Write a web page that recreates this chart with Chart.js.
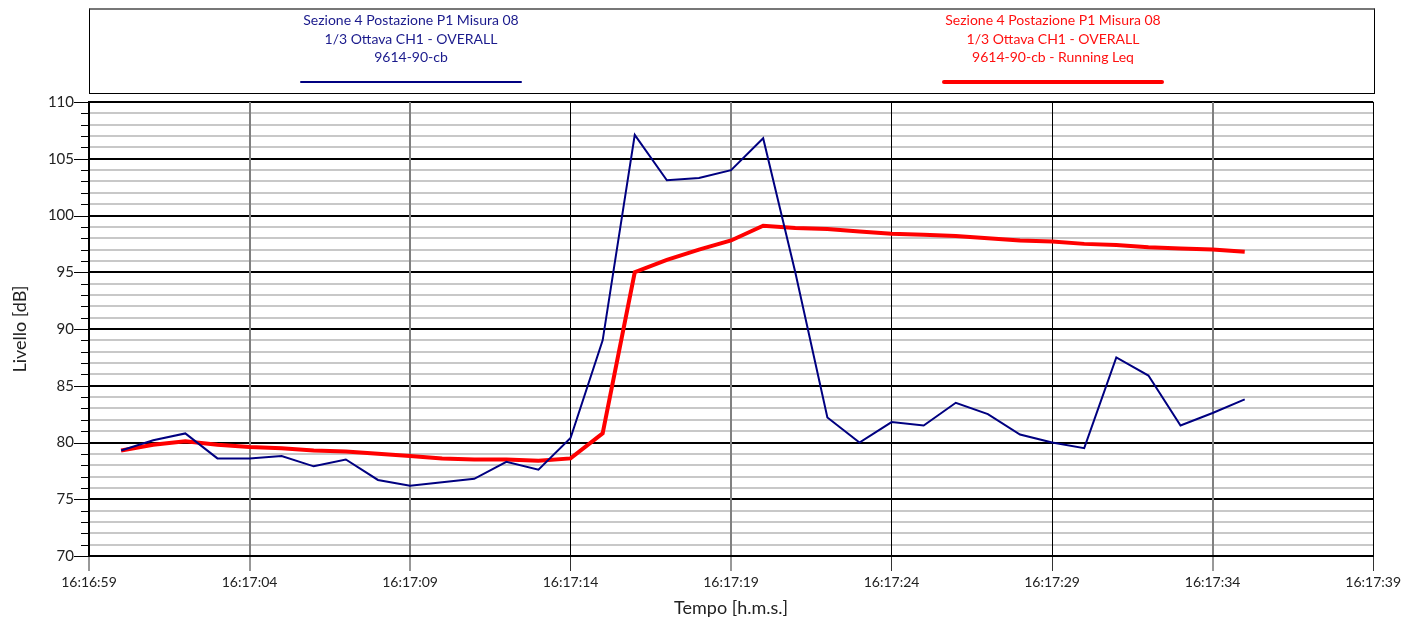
<!DOCTYPE html>
<html>
<head>
<meta charset="utf-8">
<script src="https://cdn.jsdelivr.net/npm/chart.js@4.4.1/dist/chart.umd.min.js"></script>
<style>
  body { margin: 0; background: #fff; font-family: Lato, "Open Sans", sans-serif; }
  #wrap { position: relative; width: 1404px; height: 622px; }
  #legenda {
    position: absolute; left: 89px; top: 8px; width: 1284px; height: 83px;
    border: 1px solid #000; border-top: 2px solid #777; display: flex;
  }
  .voce { flex: 1; text-align: center; font-size: 14px; line-height: 18.5px; padding-top: 1px; position: relative; }
  .campione { position: absolute; left: 50%; transform: translateX(-50%); width: 222px; border-radius: 2px; }
</style>
</head>
<body>
<div id="wrap">
  <canvas id="chart" width="1404" height="622"></canvas>
  <div id="legenda">
    <div class="voce" style="color:#1a1a8c">
      Sezione 4 Postazione P1 Misura 08<br>1/3 Ottava CH1 - OVERALL<br>9614-90-cb
      <div class="campione" style="top:71px;height:2px;background:#000080"></div>
    </div>
    <div class="voce" style="color:#ff1010">
      Sezione 4 Postazione P1 Misura 08<br>1/3 Ottava CH1 - OVERALL<br>9614-90-cb - Running Leq
      <div class="campione" style="top:70px;height:4px;background:#ff0000"></div>
    </div>
  </div>
</div>
<script>
// secondi dopo le 16:16:59
const secondi = [1,2,3,4,5,6,7,8,9,10,11,12,13,14,15,16,17,18,19,20,21,22,23,24,25,26,27,28,29,30,31,32,33,34,35,36];
const overall = [79.3,80.2,80.8,78.6,78.6,78.8,77.9,78.5,76.7,76.2,76.5,76.8,78.3,77.6,80.4,89.0,107.1,103.1,103.3,104.0,106.8,95.0,82.2,80.0,81.8,81.5,83.5,82.5,80.7,80.0,79.5,87.5,85.9,81.5,82.6,83.8];
const runningLeq = [79.3,79.8,80.1,79.8,79.6,79.5,79.3,79.2,79.0,78.8,78.6,78.5,78.5,78.4,78.6,80.8,95.0,96.1,97.0,97.8,99.1,98.9,98.8,98.6,98.4,98.3,98.2,98.0,97.8,97.7,97.5,97.4,97.2,97.1,97.0,96.8];
const oraInizio = 16 * 3600 + 16 * 60 + 59;
const lineeNere = [15, 25, 30, 40];

function formatoOra(s) {
    const t = oraInizio + s;
    const h = Math.floor(t / 3600), m = Math.floor(t / 60) % 60, sec = t % 60;
    return h + ':' + String(m).padStart(2, '0') + ':' + String(sec).padStart(2, '0');
}

const tacchette = {
    id: 'tacchette',
    afterDraw(chart) {
        const ctx = chart.ctx, y = chart.scales.y;
        ctx.save();
        ctx.strokeStyle = '#000';
        ctx.lineWidth = 1;
        for (let v = 70; v <= 110; v++) {
            const py = Math.round(y.getPixelForValue(v)) + 0.5;
            ctx.beginPath();
            ctx.moveTo(y.right - (v % 5 === 0 ? 15 : 8), py);
            ctx.lineTo(y.right, py);
            ctx.stroke();
        }
        ctx.restore();
    }
};

new Chart(document.getElementById('chart'), {
    type: 'line',
    data: {
        datasets: [
            {
                label: 'overall',
                data: secondi.map((s, i) => ({ x: s, y: overall[i] })),
                borderColor: '#000080',
                borderWidth: 2,
                pointRadius: 0,
                tension: 0,
            },
            {
                label: 'running leq',
                data: secondi.map((s, i) => ({ x: s, y: runningLeq[i] })),
                borderColor: '#ff0000',
                borderWidth: 4,
                pointRadius: 0,
                tension: 0,
            }
        ]
    },
    options: {
        responsive: false,
        animation: false,
        layout: { padding: { top: 102, right: 30 } },
        plugins: { legend: { display: false }, tooltip: { enabled: false } },
        scales: {
            y: {
                min: 70, max: 110,
                afterFit: s => { s.width = 89; },
                ticks: {
                    stepSize: 1,
                    autoSkip: false,
                    color: '#222',
                    font: { family: 'Lato', size: 15 },
                    padding: 15,
                    callback: v => v % 5 === 0 ? v : '',
                },
                grid: {
                    drawTicks: false,
                    color: c => c.tick.value % 5 === 0 ? '#000' : '#c8c8c8',
                    lineWidth: 2,
                },
                border: { color: '#000', width: 2 },
                title: {
                    display: true,
                    text: 'Livello [dB]',
                    color: '#222',
                    font: { family: 'Lato', size: 18 },
                    padding: { top: 9, bottom: 0 },
                },
            },
            x: {
                type: 'linear',
                min: 0, max: 40,
                afterFit: s => { s.height = 66; },
                ticks: {
                    stepSize: 5,
                    color: '#222',
                    font: { family: 'Lato', size: 14 },
                    padding: 3,
                    maxRotation: 0,
                    callback: v => formatoOra(v),
                },
                grid: {
                    color: c => lineeNere.includes(c.tick.value) ? '#000' : '#808080',
                    lineWidth: c => lineeNere.includes(c.tick.value) ? 1 : 2,
                    tickColor: '#333',
                    tickWidth: 1,
                    tickLength: 15,
                },
                border: { color: '#000', width: 2 },
                title: {
                    display: true,
                    text: 'Tempo [h.m.s.]',
                    color: '#222',
                    font: { family: 'Lato', size: 18 },
                    padding: { top: 0, bottom: 3 },
                },
            }
        }
    },
    plugins: [tacchette]
});
</script>
</body>
</html>
